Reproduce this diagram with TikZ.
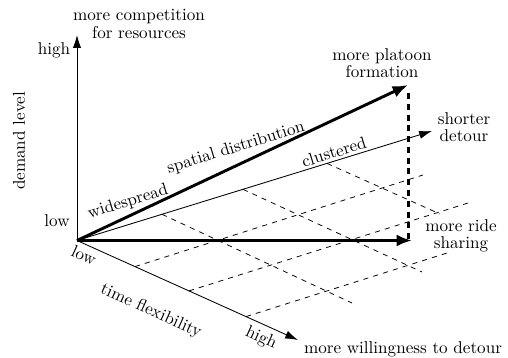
\documentclass[tikz,border=0pt]{standalone}
\usetikzlibrary{arrows.meta}
\begin{document}
\begin{tikzpicture}[x=0.5845pt,y=-0.5845pt,
  axis/.style={line width=0.5pt,-{Latex[length=7.5pt,width=4.8pt]}},
  boldarrow/.style={line width=1.7pt,-{Latex[length=9pt,width=7pt]}},
  gridline/.style={line width=0.45pt,dashed},
  boldgrid/.style={line width=1.2pt,dash pattern=on 3.5pt off 2.8pt},
  lbl/.style={inner sep=0pt,align=center},
]
\useasboundingbox (0,0) rectangle (508,358);
% key points
\coordinate (O) at (77,240.5);
\coordinate (vt) at (77,35);
\coordinate (tt) at (298,340);
\coordinate (st) at (432,131);
\coordinate (pt) at (408,85);
\coordinate (rt) at (412,240.5);
\coordinate (dtop) at (408.5,93);
% grid points
\coordinate (t1) at (135,266.6);
\coordinate (t2) at (189,290.9);
\coordinate (t3) at (246,316.6);
\coordinate (t1e) at (423,175);
\coordinate (t2e) at (468,203);
\coordinate (t3e) at (447,253);
\coordinate (s1) at (162,214.3);
\coordinate (s2) at (243,189.3);
\coordinate (s3) at (327,163.4);
\coordinate (s1e) at (352,303);
\coordinate (s2e) at (422,272);
\coordinate (s3e) at (440,214);
% dashed grid
\draw[gridline] (t1) -- (t1e);
\draw[gridline] (t2) -- (t2e);
\draw[gridline] (t3) -- (t3e);
\draw[gridline] (s1) -- (s1e);
\draw[gridline] (s2) -- (s2e);
\draw[gridline] (s3) -- (s3e);
% axes
\draw[axis] (O) -- (vt);
\draw[axis] (O) -- (tt);
\draw[axis] (O) -- (st);
% bold arrows
\draw[boldgrid] (dtop) -- (dtop |- O);
\draw[boldarrow] (O) -- (pt);
\draw[boldarrow] (O) -- (rt);
% labels
\node[lbl] (comp) at (139,24) {more competition\\[-2pt]for resources};
\node[lbl] (vhigh) at (54,50) {high};
\node[lbl] (vlow) at (57,221) {low};
\node[lbl,rotate=90] (dem) at (19,141) {demand level};
\node[lbl,rotate=-24.3] (tlow) at (84,255) {low};
\node[lbl,rotate=-24.3] (tflex) at (151,311) {time flexibility};
\node[lbl,rotate=-24.3] (thigh) at (261,338) {high};
\node[lbl] (will) at (403,349) {more willingness to detour};
\node[lbl] (ride) at (461,236) {more ride\\[-2pt]sharing};
\node[lbl] (short) at (464,127) {shorter\\[-2pt]detour};
\node[lbl] (plat) at (382,63) {more platoon\\[-2pt]formation};
\node[lbl,rotate=17.1] (wide) at (128,202) {widespread};
\node[lbl,rotate=17.1] (spat) at (236,148) {spatial distribution};
\node[lbl,rotate=17.1] (clus) at (334,152) {clustered};
\end{tikzpicture}
\end{document}
